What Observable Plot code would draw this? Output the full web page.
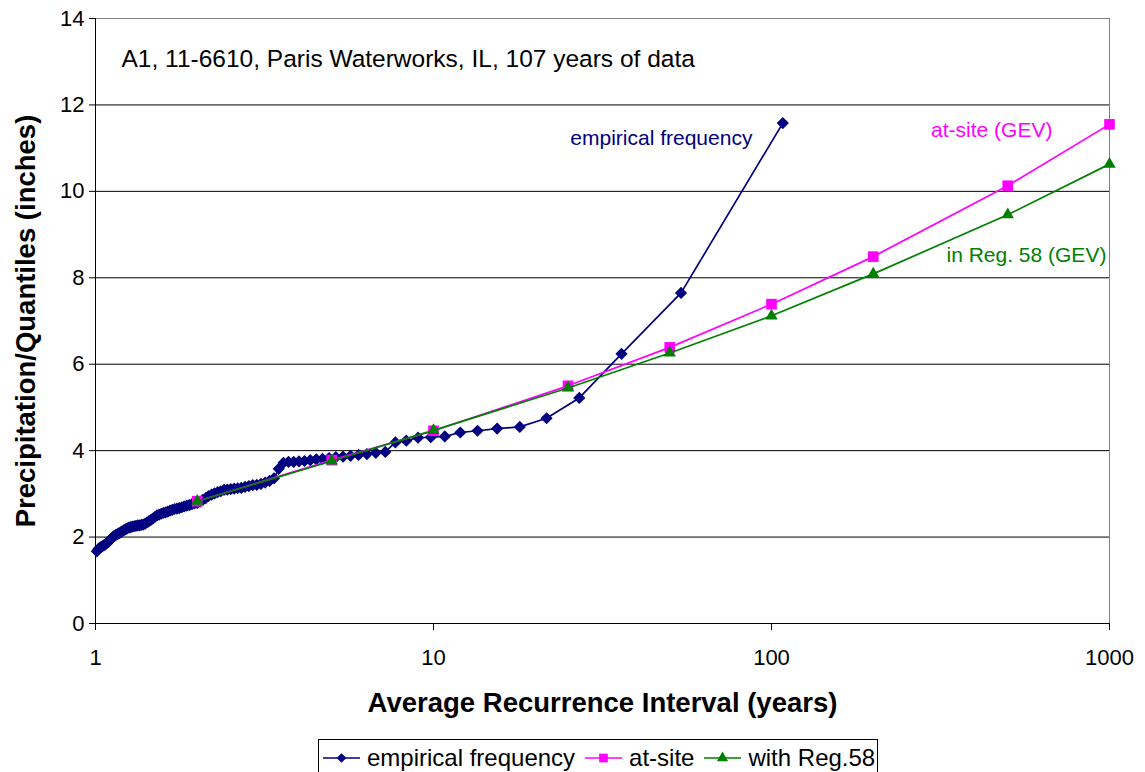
<!DOCTYPE html>
<html>
<head>
<meta charset="utf-8">
<script src="https://cdn.jsdelivr.net/npm/d3@7"></script>
<script src="https://cdn.jsdelivr.net/npm/@observablehq/plot@0.6"></script>
<style>
  html, body { margin: 0; padding: 0; background: #fff; }
  body { width: 1145px; height: 772px; position: relative; overflow: hidden; font-family: "Liberation Sans", Arial, sans-serif; }
  #legend { position: absolute; left: 318px; top: 739px; height: 40px; border: 1px solid #000; box-sizing: border-box;
            display: flex; align-items: flex-start; padding: 4px 2px 0 4px; font-size: 24px; white-space: nowrap; background:#fff; }
  #legend .item { display: flex; align-items: center; margin-right: 10px; }
  #legend .item:last-child { margin-right: 0; }
  #legend svg { margin-right: 7px; }
</style>
</head>
<body>
<div id="chart"></div>
<div id="legend"></div>
<script>
// Empirical frequency: 107 annual maxima (inches), ranked largest first
const recordYears = 107;
const empiricalValues = [
  11.58, 7.65, 6.24, 5.22, 4.75, 4.55, 4.51, 4.46, 4.42, 4.33,
  4.31, 4.30, 4.23, 4.19, 3.97, 3.95, 3.92, 3.90, 3.88, 3.86,
  3.85, 3.83, 3.81, 3.80, 3.78, 3.76, 3.75, 3.74, 3.74, 3.72,
  3.58, 3.36, 3.30, 3.26, 3.23, 3.21, 3.20, 3.18, 3.16, 3.14,
  3.13, 3.12, 3.11, 3.10, 3.09, 3.06, 3.04, 3.01, 2.98, 2.95,
  2.90, 2.86, 2.82, 2.79, 2.78, 2.76, 2.74, 2.73, 2.71, 2.69,
  2.67, 2.66, 2.65, 2.63, 2.61, 2.59, 2.57, 2.56, 2.54, 2.52,
  2.50, 2.47, 2.43, 2.40, 2.37, 2.34, 2.31, 2.29, 2.28, 2.27,
  2.27, 2.26, 2.25, 2.24, 2.23, 2.22, 2.20, 2.18, 2.16, 2.13,
  2.11, 2.09, 2.07, 2.05, 2.03, 2.00, 1.96, 1.92, 1.89, 1.86,
  1.83, 1.81, 1.79, 1.77, 1.75, 1.72, 1.67
];
// GEV quantiles
const returnPeriods = [2, 5, 10, 25, 50, 100, 200, 500, 1000];
const atSite = [2.83, 3.78, 4.46, 5.50, 6.39, 7.39, 8.49, 10.13, 11.55];
const withReg58 = [2.83, 3.76, 4.47, 5.45, 6.26, 7.12, 8.09, 9.46, 10.63];

const xTicks = [1, 10, 100, 1000];
const yTicks = [0, 2, 4, 6, 8, 10, 12, 14];
const gridValues = [2, 4, 6, 8, 10, 12];

const titleText = "A1, 11-6610, Paris Waterworks, IL, 107 years of data";
const xLabel = "Average Recurrence Interval (years)";
const yLabel = "Precipitation/Quantiles (inches)";

const empLabel = {text: "empirical frequency", x: 25.4, y: 11.22};
const siteLabel = {text: "at-site (GEV)", x: 678, y: 11.41};
const regLabel = {text: "in Reg. 58 (GEV)", x: 979, y: 8.52};
const titleAnchor = {x: 1.194, y: 13.05};

// Weibull plotting position T = (n+1)/rank
const empirical = empiricalValues.map((v, i) => ({T: (recordYears + 1) / (i + 1), v}));
const siteData = returnPeriods.map((T, i) => ({T, v: atSite[i]}));
const regData = returnPeriods.map((T, i) => ({T, v: withReg58[i]}));

const NAVY = "#000080", MAG = "#FF00FF", GRN = "#008000";
const FONT = "Liberation Sans, Arial, sans-serif";

const chart = Plot.plot({
  width: 1145,
  height: 730,
  marginLeft: 95,
  marginRight: 36,
  marginTop: 18,
  marginBottom: 107,
  style: {fontFamily: FONT, background: "#fff", overflow: "visible"},
  x: {type: "log", domain: [1, 1000]},
  y: {domain: [0, 14]},
  marks: [
    Plot.ruleY(gridValues, {stroke: "#000", strokeWidth: 1}),
    Plot.frame({stroke: "#808080"}),
    Plot.axisX({ticks: xTicks, tickFormat: d3.format("d"), tickSize: 7, tickPadding: 19, fontSize: 22, label: null, stroke: "#000"}),
    Plot.axisY({ticks: yTicks, tickSize: 6, tickPadding: 5, fontSize: 22, label: null, stroke: "#000"}),
    Plot.ruleX([1], {stroke: "#000"}),
    Plot.ruleY([0], {stroke: "#000"}),
    Plot.line(empirical, {x: "T", y: "v", stroke: NAVY, strokeWidth: 1.7}),
    Plot.dot(empirical, {x: "T", y: "v", symbol: "diamond2", fill: NAVY, r: 5.5}),
    Plot.line(siteData, {x: "T", y: "v", stroke: MAG, strokeWidth: 1.7}),
    Plot.dot(siteData, {x: "T", y: "v", symbol: "square", fill: MAG, r: 6}),
    Plot.line(regData, {x: "T", y: "v", stroke: GRN, strokeWidth: 1.7}),
    Plot.dot(regData, {x: "T", y: "v", symbol: "triangle", fill: GRN, r: 4.6}),
    Plot.text([titleText], {x: () => titleAnchor.x, y: () => titleAnchor.y, text: d => d, textAnchor: "start", fontSize: 24.5, fill: "#000"}),
    Plot.text([empLabel], {x: "x", y: "y", text: "text", textAnchor: "start", fill: NAVY, fontSize: 21}),
    Plot.text([siteLabel], {x: "x", y: "y", text: "text", textAnchor: "end", fill: MAG, fontSize: 21}),
    Plot.text([regLabel], {x: "x", y: "y", text: "text", textAnchor: "end", fill: GRN, fontSize: 21}),
    Plot.text([xLabel], {frameAnchor: "bottom", dy: 88, text: d => d, fontSize: 27.5, fontWeight: "bold", fill: "#000"}),
    Plot.text([yLabel], {frameAnchor: "left", dx: -69, rotate: -90, textAnchor: "middle", text: d => d, fontSize: 27.5, fontWeight: "bold", fill: "#000"})
  ]
});
document.getElementById("chart").appendChild(chart);

// Legend (below the SVG)
const legendItems = [
  {name: "empirical frequency", color: NAVY, symbol: d3.symbolDiamond2, size: 60},
  {name: "at-site", color: MAG, symbol: d3.symbolSquare, size: 75},
  {name: "with Reg.58", color: GRN, symbol: d3.symbolTriangle, size: 55}
];
const legend = d3.select("#legend");
for (const it of legendItems) {
  const item = legend.append("div").attr("class", "item");
  const s = item.append("svg").attr("width", 37).attr("height", 26);
  s.append("line").attr("x1", 0).attr("x2", 37).attr("y1", 13).attr("y2", 13).attr("stroke", it.color).attr("stroke-width", 1.7);
  s.append("path").attr("d", d3.symbol(it.symbol, it.size)()).attr("transform", "translate(18.5,13)").attr("fill", it.color);
  item.append("span").text(it.name);
}
</script>
</body>
</html>
